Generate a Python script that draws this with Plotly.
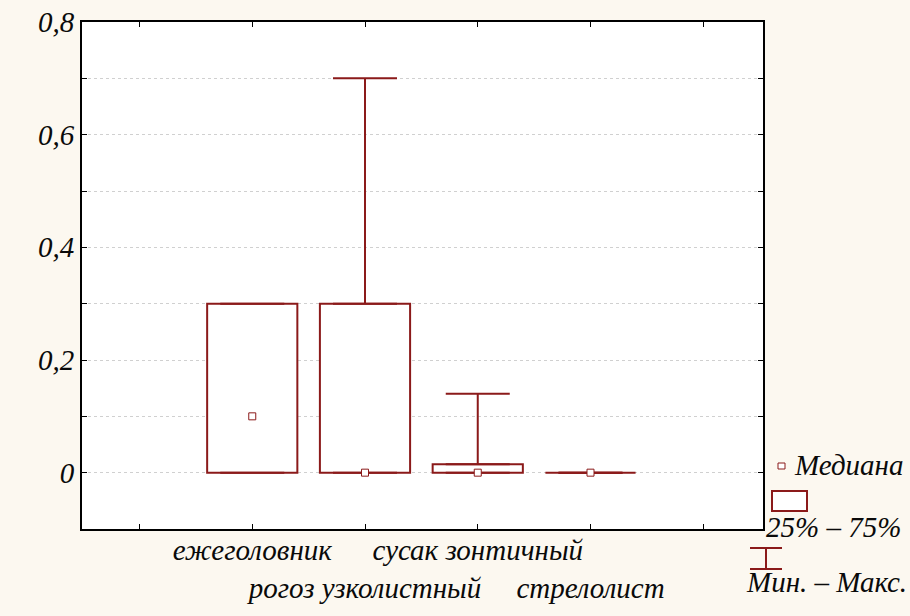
import plotly.graph_objects as go

categories = ["ежеголовник", "рогоз узколистный", "сусак зонтичный", "стрелолист"]
tick_rows = [0, 1, 0, 1]  # staggered label rows
mins = [0.0, 0.0, 0.0, 0.0]
q1s = [0.0, 0.0, 0.0, 0.0]
medians = [0.1, 0.0, 0.0, 0.0]
q3s = [0.3, 0.3, 0.015, 0.0]
maxs = [0.3, 0.7, 0.14, 0.0]

RED = "#8B1A1A"
FONT = "Liberation Serif"
TXT = "#0A0A0A"
xs = list(range(len(categories)))

fig = go.Figure()

# boxes (25%-75%)
fig.add_trace(go.Bar(
    x=xs, y=[b - a for a, b in zip(q1s, q3s)], base=q1s, width=0.8,
    marker=dict(color="white", line=dict(color=RED, width=2)),
    showlegend=False, hoverinfo="skip"))

# upper whiskers
fig.add_trace(go.Scatter(
    x=xs, y=q3s, mode="markers", marker=dict(size=1, opacity=0),
    error_y=dict(type="data", symmetric=False,
                 array=[m - q for m, q in zip(maxs, q3s)],
                 arrayminus=[0] * len(xs), color=RED, thickness=2, width=32),
    showlegend=False, hoverinfo="skip"))
# lower whiskers
fig.add_trace(go.Scatter(
    x=xs, y=q1s, mode="markers", marker=dict(size=1, opacity=0),
    error_y=dict(type="data", symmetric=False,
                 array=[0] * len(xs),
                 arrayminus=[q - m for m, q in zip(mins, q1s)], color=RED, thickness=2, width=32),
    showlegend=False, hoverinfo="skip"))

# medians
fig.add_trace(go.Scatter(
    x=xs, y=medians, mode="markers",
    marker=dict(symbol="square", size=7, color="white", line=dict(color=RED, width=1)),
    showlegend=False))

ticktext = [("<br>" + c) if r == 1 else c for c, r in zip(categories, tick_rows)]

# plot area in pixels
L, R, T, B = 82, 763, 22, 529
W, H = 910, 616

def px(x):
    return (x - L) / (R - L)

def py(y):
    return (B - y) / (B - T)

fig.update_layout(
    width=W, height=H,
    margin=dict(l=L, r=W - R, t=T, b=H - B, autoexpand=False),
    paper_bgcolor="#FCF8F0", plot_bgcolor="white",
    separators=", ",
    font=dict(family=FONT, size=29, color=TXT, style="italic"),
    xaxis=dict(range=[-1.51, 4.53], tickvals=[-1] + xs + [4], ticktext=[""] + ticktext + [""],
               tickangle=0, automargin=False, ticklabelstandoff=-6,
               ticks="inside", ticklen=5, tickwidth=1, tickcolor="black",
               showline=True, linecolor="black", linewidth=2, mirror="ticks",
               showgrid=False, zeroline=False,
               tickfont=dict(family=FONT, size=29, style="italic", color=TXT)),
    yaxis=dict(range=[-0.1, 0.8], dtick=0.2, tick0=0, automargin=False,
               ticks="inside", ticklen=5, tickwidth=1, tickcolor="black",
               showline=True, linecolor="black", linewidth=2, mirror="ticks",
               showgrid=True, gridcolor="#D0D0D0", griddash="dot", gridwidth=1,
               zeroline=False,
               minor=dict(dtick=0.1, tick0=0, showgrid=True, gridcolor="#D0D0D0", griddash="dot",
                          ticks="inside", ticklen=5, tickcolor="black"),
               tickfont=dict(family=FONT, size=29, style="italic", color=TXT)),
)

# legend (decoration)
shapes = [
    dict(type="rect", xref="paper", yref="paper", x0=px(778), x1=px(785), y0=py(469), y1=py(463),
         line=dict(color=RED, width=1), fillcolor="white"),
    dict(type="rect", xref="paper", yref="paper", x0=px(772), x1=px(807), y0=py(511), y1=py(491),
         line=dict(color=RED, width=2), fillcolor="white"),
    dict(type="line", xref="paper", yref="paper", x0=px(750), x1=px(782), y0=py(548), y1=py(548),
         line=dict(color=RED, width=2)),
    dict(type="line", xref="paper", yref="paper", x0=px(750), x1=px(782), y0=py(569), y1=py(569),
         line=dict(color=RED, width=2)),
    dict(type="line", xref="paper", yref="paper", x0=px(766), x1=px(766), y0=py(548), y1=py(569),
         line=dict(color=RED, width=2)),
]
fig.update_layout(shapes=shapes)
ann = dict(xref="paper", yref="paper", showarrow=False, yanchor="middle",
           font=dict(family=FONT, size=29, style="italic", color=TXT))
fig.add_annotation(x=px(792), y=py(465), text="Медиана", xanchor="left", **ann)
fig.add_annotation(x=px(764), y=py(527), text="25% – 75%", xanchor="left", **ann)
fig.add_annotation(x=px(909), y=py(582), text="Мин. – Макс.", xanchor="right", **ann)

fig.write_html("out.html", config={"displayModeBar": False},
               post_script="document.body.style.margin='0';document.body.style.background='#FCF8F0';")
